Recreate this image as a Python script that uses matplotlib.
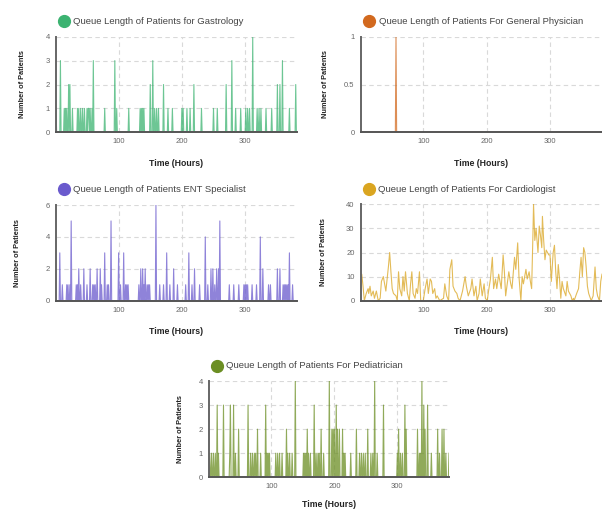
import numpy as np
import matplotlib
matplotlib.use("Agg")
import matplotlib.pyplot as plt
from matplotlib.lines import Line2D

plt.rcParams['font.family'] = ['Liberation Sans', 'DejaVu Sans']

W, H = 602, 511
hours = np.arange(1, 383)

# spikes: hour -> queue length (all other hours are 0)
gastro_h = [1, 8, 14, 16, 18, 21, 23, 27, 35, 37, 40, 43, 46, 50, 52, 53, 55, 58, 60, 78, 94, 97,
            116, 134, 136, 138, 140, 150, 154, 157, 160, 163, 171, 178, 185, 200, 202, 208, 213,
            219, 231, 250, 256, 270, 279, 285, 293, 301, 304, 307, 312, 319, 322, 325, 333, 342,
            351, 355, 359, 370, 380]
gastro_v = [1, 3, 1, 1, 1, 2, 2, 1, 1, 1, 1, 1, 1, 1, 1, 1, 1, 1, 3, 1, 3, 1,
            1, 1, 1, 1, 1, 2, 3, 1, 1, 1, 2, 1, 1, 1, 1, 1, 1,
            2, 1, 1, 1, 2, 3, 1, 1, 1, 1, 1, 4, 1, 1, 1, 1, 1,
            2, 2, 3, 1, 2]

gp_h = [57]
gp_v = [1]

ent_h = [7, 11, 18, 20, 23, 25, 33, 35, 37, 40, 45, 50, 55, 59, 61, 63, 66, 71, 73, 78, 82, 84,
         88, 100, 103, 108, 111, 113, 115, 132, 135, 138, 140, 142, 145, 147, 149, 159, 165, 171,
         176, 181, 187, 193, 206, 211, 216, 220, 228, 237, 241, 246, 249, 252, 255, 258, 260,
         275, 282, 290, 298, 300, 302, 304, 311, 318, 324, 328, 337, 340, 351, 355, 360, 362,
         364, 366, 368, 370, 375]
ent_v = [3, 1, 1, 1, 1, 5, 1, 1, 2, 1, 2, 1, 2, 1, 1, 1, 2, 2, 1, 3, 1, 1,
         5, 3, 1, 3, 1, 1, 1, 1, 2, 2, 1, 2, 1, 1, 1, 6, 1, 1,
         3, 1, 2, 1, 1, 3, 1, 2, 1, 4, 1, 2, 2, 1, 2, 2, 5,
         1, 1, 1, 1, 1, 1, 1, 1, 1, 4, 2, 1, 1, 2, 2, 1, 1,
         1, 1, 1, 3, 1]

pedi_h = [2, 5, 8, 11, 14, 16, 24, 34, 35, 40, 43, 48, 63, 67, 70, 73, 75, 78, 83, 91, 93, 95, 97,
          107, 110, 113, 117, 124, 126, 129, 133, 138, 151, 153, 155, 157, 159, 162, 168, 171, 174,
          176, 179, 183, 192, 196, 198, 200, 203, 205, 208, 213, 215, 217, 226, 235, 240, 243,
          246, 249, 253, 258, 261, 264, 268, 278, 300, 302, 305, 308, 312, 314, 332, 335, 337,
          339, 342, 344, 348, 354, 364, 367, 371, 374, 377, 382]
pedi_v = [1, 1, 1, 1, 3, 1, 3, 1, 3, 3, 1, 2, 3, 1, 1, 1, 1, 2, 1, 3, 1, 1, 1,
          1, 1, 1, 1, 2, 1, 1, 1, 4, 1, 1, 1, 2, 1, 1, 3, 1, 1,
          1, 2, 1, 4, 2, 2, 2, 3, 2, 2, 2, 1, 1, 1, 2, 1, 1,
          1, 1, 2, 1, 1, 4, 1, 3, 1, 2, 1, 1, 3, 2, 2, 1, 1,
          4, 3, 2, 3, 1, 2, 1, 2, 2, 1, 1]

# cardiologist queue, sampled where readable
cardio_h = [1, 3, 5, 7, 10, 13, 14, 16, 18, 21, 23, 26, 29, 32, 34, 37, 39, 41, 43, 45, 47, 49, 51,
            53, 57, 59, 61, 63, 66, 68, 70, 72, 75, 78, 80, 82, 84, 87, 89, 91, 94, 96, 100, 103,
            106, 108, 111, 113, 115, 118, 120, 122, 126, 132, 134, 137, 140, 142, 145, 147, 150,
            153, 155, 158, 162, 166, 168, 171, 175, 177, 180, 183, 185, 188, 190, 193, 196, 198,
            201, 203, 206, 209, 211, 214, 216, 219, 223, 226, 228, 230, 233, 235, 238, 240, 244,
            246, 248, 249, 251, 254, 256, 258, 260, 262, 264, 267, 269, 271, 273, 274, 276, 278,
            281, 283, 285, 287, 288, 290, 292, 294, 296, 298, 300, 302, 305, 307, 309, 311, 313,
            315, 317, 319, 321, 325, 327, 329, 333, 335, 337, 338, 342, 345, 347, 349, 351, 353,
            355, 357, 359, 361, 365, 368, 371, 373, 375, 378, 380, 382]
cardio_v = [10, 11, 6, 0, 3, 5, 3, 6, 2, 4, 1, 4, 0, 1, 8, 10, 7, 4, 9, 14, 20, 12, 5,
            3, 2, 0, 12, 5, 2, 10, 4, 12, 3, 0, 7, 12, 3, 1, 5, 3, 12, 0, 0, 5,
            9, 3, 9, 8, 3, 5, 1, 2, 0, 1, 7, 2, 0, 13, 17, 6, 4,
            3, 1, 0, 4, 10, 6, 2, 5, 9, 2, 6, 0, 3, 9, 2, 7, 1,
            0, 4, 9, 18, 5, 9, 5, 11, 5, 19, 12, 2, 8, 12, 7, 5, 18,
            13, 20, 24, 10, 0, 10, 7, 10, 13, 9, 12, 8, 5, 27, 40, 25, 30,
            20, 31, 27, 22, 35, 25, 17, 21, 20, 19, 19, 8, 20, 23, 12, 5, 15,
            9, 1, 8, 5, 2, 8, 4, 2, 0, 1, 0, 3, 5, 12, 18, 10, 22,
            20, 14, 6, 3, 0, 2, 14, 5, 2, 0, 8, 11]


def spikes(h, v):
    out = np.zeros(len(hours))
    out[np.array(h) - 1] = v
    return out


def px_rect(l, r, t, b):
    return [l / W, 1 - b / H, (r - l) / W, (b - t) / H]


fig = plt.figure(figsize=(W / 100, H / 100), dpi=100)


def panel(rect, x, y, color, ymax, yticks, title, title_pos, ylab_off, xlab_off=31):
    ax = fig.add_axes(px_rect(*rect))
    ax.plot(x, y, color=color, lw=0.8, alpha=0.75)
    ax.set_xlim(1, 382)
    ax.set_ylim(0, ymax)
    ax.set_xticks([100, 200, 300])
    ax.set_yticks(yticks)
    ax.set_yticklabels([f"{t:g}" for t in yticks])
    ax.grid(True, color='#d9d9d9', linestyle=(0, (4, 3)), lw=0.8)
    ax.set_axisbelow(True)
    for s in ['top', 'right']:
        ax.spines[s].set_visible(False)
    ax.spines['left'].set_color('#666666')
    ax.spines['left'].set_linewidth(1.4)
    ax.spines['bottom'].set_color('#555555')
    ax.spines['bottom'].set_linewidth(1.4)
    ax.tick_params(length=0, labelsize=5.5, colors='#666666', pad=4.3)
    ax.set_xlabel("Time (Hours)", fontsize=6.3, fontweight='bold', color='#222222', va='center')
    ax.xaxis.set_label_coords(0.5, -xlab_off / (rect[3] - rect[2]))
    ax.set_ylabel("Number of Patients", fontsize=5.3, fontweight='bold', color='#222222',
                  va='center')
    ax.yaxis.set_label_coords(-ylab_off / (rect[1] - rect[0]), 0.5)
    cx, tx, ty = title_pos
    fig.add_artist(Line2D([cx / W], [1 - ty / H], marker='o', markersize=8.5,
                          color=color, linestyle='', transform=fig.transFigure))
    fig.text(tx / W, 1 - ty / H, title, fontsize=6.8, color='#444444', va='center', ha='left')
    return ax


panel((56, 297, 36.7, 132.3), hours, spikes(gastro_h, gastro_v), 'mediumseagreen', 4,
      [0, 1, 2, 3, 4], "Queue Length of Patients for Gastrology", (64, 72.7, 21), 33)
panel((360.5, 602, 36.7, 132.3), hours, spikes(gp_h, gp_v), 'chocolate', 1,
      [0, 0.5, 1], "Queue Length of Patients For General Physician", (369.3, 378.7, 21), 35)
panel((56, 297, 205, 300.7), hours, spikes(ent_h, ent_v), 'slateblue', 6,
      [0, 2, 4, 6], "Queue Length of Patients ENT Specialist", (64, 72.7, 189.3), 38)
panel((360.5, 602, 204.3, 300.7), cardio_h, cardio_v, 'goldenrod', 40,
      [0, 10, 20, 30, 40], "Queue Length of Patients For Cardiologist", (369.3, 378.3, 189.3), 37)
panel((209, 449, 381, 477.3), hours, spikes(pedi_h, pedi_v), 'olivedrab', 4,
      [0, 1, 2, 3, 4], "Queue Length of Patients For Pediatrician", (216.7, 226, 365.7), 29,
      xlab_off=27)

fig.savefig("out.png", dpi=100)
